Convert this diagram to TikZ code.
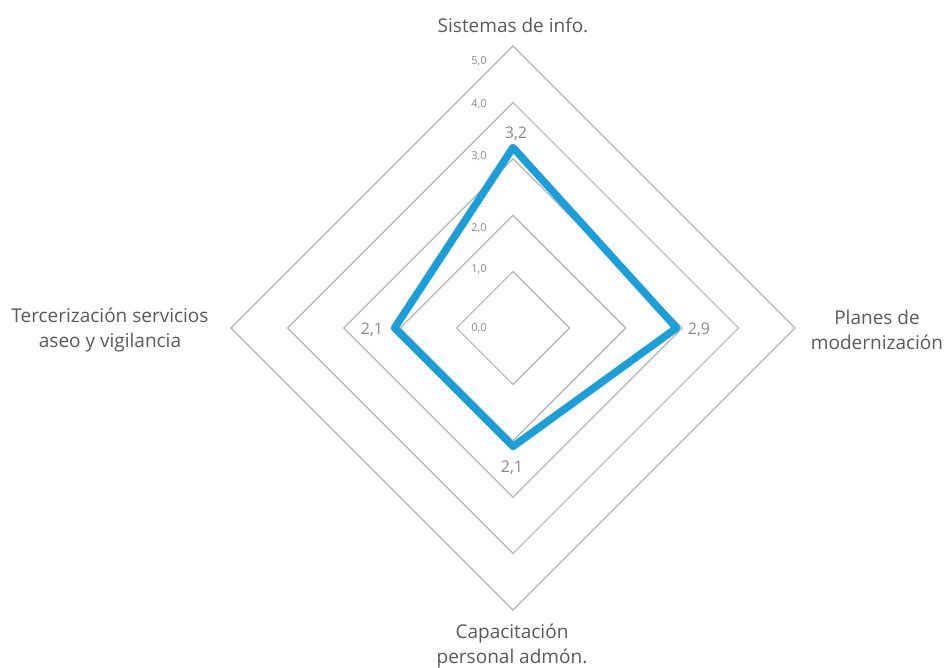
\documentclass[tikz,border=0pt]{standalone}
\usepackage{fontspec}
\setmainfont{Open Sans}
\definecolor{ringgray}{HTML}{B4B4B4}
\definecolor{txtdark}{HTML}{595959}
\definecolor{txtgray}{HTML}{8A8A8A}
\definecolor{serieblue}{HTML}{1A9FDB}
\tikzset{
  ring/.style={draw=ringgray, line width=1.2pt},
  catlabel/.style={text=txtdark, font=\fontsize{19}{24.5}\selectfont, align=center, inner sep=0pt},
  ticklabel/.style={text=txtgray, font=\fontsize{11}{12}\selectfont, inner sep=0pt},
  vallabel/.style={text=txtgray, font=\fontsize{16}{18}\selectfont, inner sep=0pt},
  series/.style={draw=serieblue, line width=7.5pt, line join=round}
}
\begin{document}
\begin{tikzpicture}[x=1pt, y=-1pt]
\useasboundingbox (0,0) rectangle (945,668);
% center
\coordinate (c) at (513,328);
% rings
\foreach \r in {1,...,5}{
  \draw[ring] (513,{328-56.4*\r}) -- ({513+56.4*\r},328) -- (513,{328+56.4*\r}) -- ({513-56.4*\r},328) -- cycle;
}
% series points
\coordinate (pt) at (513,{328-56.4*3.2});
\coordinate (pr) at ({513+56.4*2.9},328);
\coordinate (pb) at (513,{328+56.4*2.1});
\coordinate (pl) at ({513-56.4*2.1},328);
\draw[series] (pt) -- (pr) -- (pb) -- (pl) -- cycle;
% tick labels
\node[ticklabel] (t5) at (479,61) {5,0};
\node[ticklabel] (t4) at (479,104) {4,0};
\node[ticklabel] (t3) at (479,156) {3,0};
\node[ticklabel] (t2) at (479,228) {2,0};
\node[ticklabel] (t1) at (479,269) {1,0};
\node[ticklabel] (t0) at (479,328) {0,0};
% value labels
\node[vallabel] (vt) at (516,134) {3,2};
\node[vallabel] (vr) at (699,330) {2,9};
\node[vallabel] (vl) at (372,330) {2,1};
\node[vallabel] (vb) at (512,468) {2,1};
% category labels
\node[catlabel] (ct) at (513,25) {Sistemas de info.};
\node[catlabel] (cr) at (877,330) {Planes de\\modernización};
\node[catlabel] (cl) at (110,330) {Tercerización servicios\\aseo y vigilancia};
\node[catlabel] (cb) at (512,646) {Capacitación\\personal admón.};
\end{tikzpicture}
\end{document}
